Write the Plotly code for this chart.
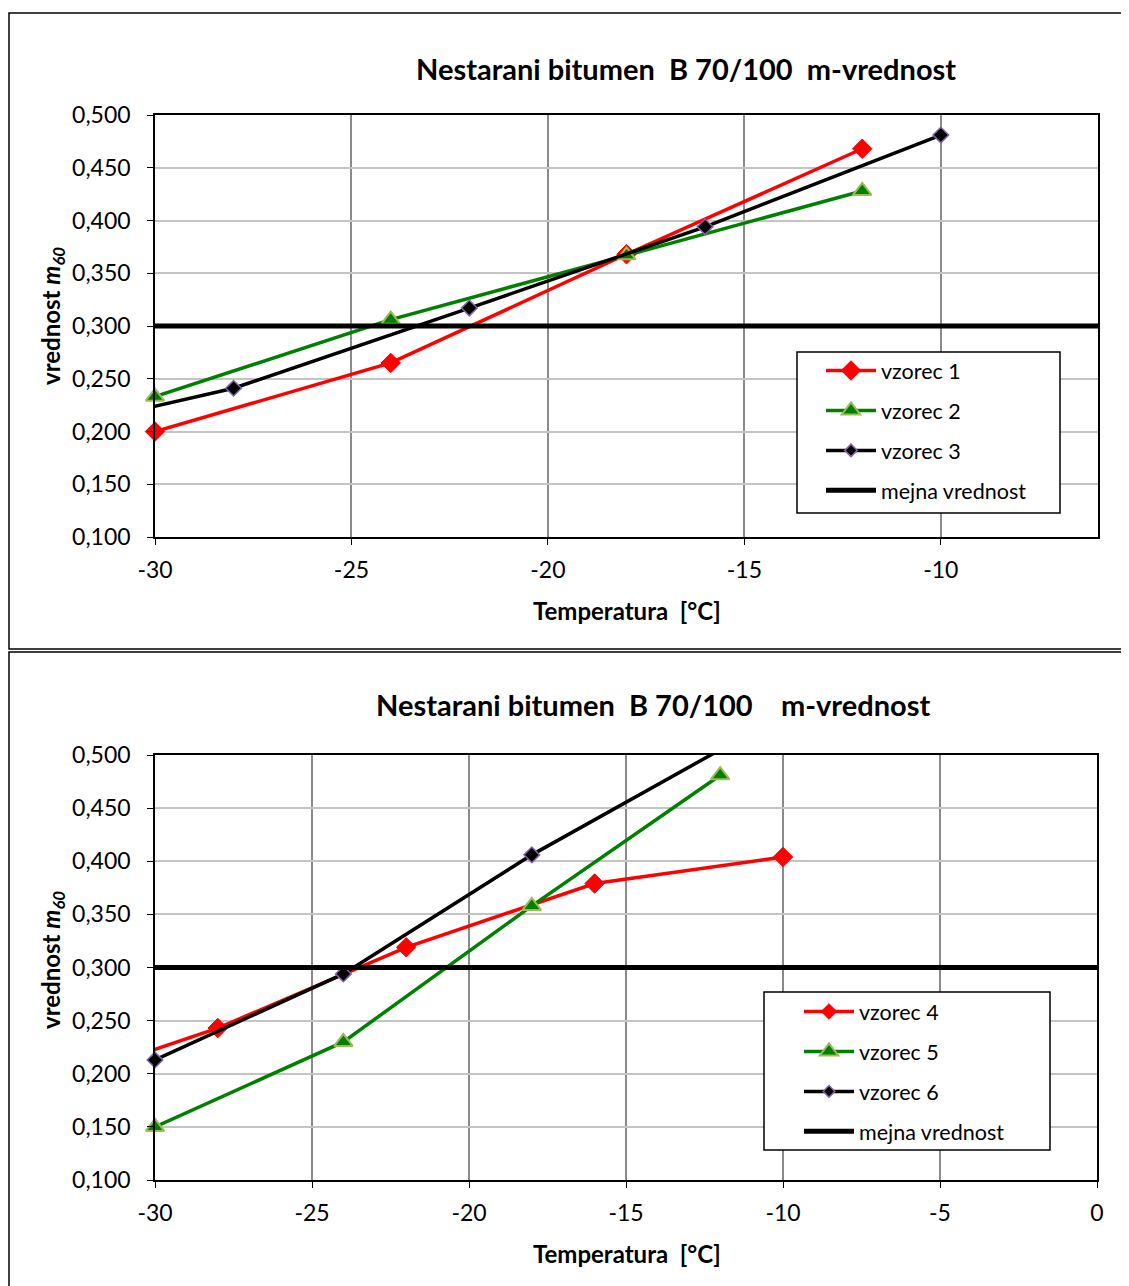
import plotly.graph_objects as go

W, H = 1129, 1286
OFF = 8  # page body margin
def px(x): return (x - OFF) / W
def py(y): return 1 - (y - OFF) / H

# ---------------- data ----------------
# top chart
top_x1 = [-30, -24, -18, -12]
top_y1 = [0.200, 0.265, 0.368, 0.468]
top_x2 = [-30, -24, -18, -12]
top_y2 = [0.233, 0.306, 0.367, 0.428]
top_x3 = [-34, -28, -22, -16, -10]
top_y3 = [0.190, 0.241, 0.317, 0.394, 0.481]
top_names = ["vzorec 1", "vzorec 2", "vzorec 3"]

# bottom chart
bot_x4 = [-34, -28, -22, -16, -10]
bot_y4 = [0.183, 0.243, 0.319, 0.379, 0.404]
bot_x5 = [-30, -24, -18, -12]
bot_y5 = [0.150, 0.230, 0.358, 0.481]
bot_x6 = [-30, -24, -18, -12]
bot_y6 = [0.213, 0.294, 0.406, 0.505]
bot_names = ["vzorec 4", "vzorec 5", "vzorec 6"]

limit_name = "mejna vrednost"
limit_value = 0.300
limit_x = [-40, 10]

top_xticks = [-30, -25, -20, -15, -10]
top_xticktext = ["-30", "-25", "-20", "-15", "-10"]
bot_xticks = [-30, -25, -20, -15, -10, -5, 0]
bot_xticktext = ["-30", "-25", "-20", "-15", "-10", "-5", "0"]
yticks = [0.100, 0.150, 0.200, 0.250, 0.300, 0.350, 0.400, 0.450, 0.500]

title_text = "Nestarani bitumen\u00a0\u00a0B 70/100\u00a0\u00a0m-vrednost"
title_text2 = "Nestarani bitumen\u00a0\u00a0B 70/100\u00a0\u00a0\u00a0\u00a0m-vrednost"
xtitle = "Temperatura\u00a0\u00a0[°C]"
ytitle = "vrednost <i>m<sub>60</sub></i>"

FONT = "Lato"
RED = "#ff0000"
GREEN = "#008000"
BLACK = "#000000"
XMIN = -30
YMIN, YMAX = 0.1, 0.5

fig = go.Figure()

def add_series(xs, ys, name, style, xa, ya, leg):
    if style == "red":
        base = 15
        line = dict(color=RED, width=3.5)
        mk = dict(symbol="diamond", color=RED, line=dict(color=RED, width=1))
    elif style == "green":
        base = 16
        line = dict(color=GREEN, width=3.5)
        mk = dict(symbol="triangle-up", color=GREEN, line=dict(color="#9bbb59", width=2))
    else:
        base = 12
        line = dict(color=BLACK, width=3.5)
        mk = dict(symbol="diamond", color=BLACK, line=dict(color="#8064a2", width=1.5))
    # hide markers of points that fall outside the visible axis range
    sizes = [base if (x >= XMIN and YMIN <= y <= YMAX) else 0 for x, y in zip(xs, ys)]
    mk["size"] = sizes
    mk["opacity"] = 1
    fig.add_trace(go.Scatter(x=xs, y=ys, name=name, mode="lines+markers", line=line,
                             marker=mk, xaxis=xa, yaxis=ya, legend=leg,
                             legendgroup=leg + name, cliponaxis=False))

add_series(top_x1, top_y1, top_names[0], "red", "x", "y", "legend")
add_series(top_x2, top_y2, top_names[1], "green", "x", "y", "legend")
add_series(top_x3, top_y3, top_names[2], "black", "x", "y", "legend")
fig.add_trace(go.Scatter(x=limit_x, y=[limit_value] * len(limit_x), name=limit_name, mode="lines",
                         line=dict(color=BLACK, width=5), xaxis="x", yaxis="y", legend="legend",
                         legendgroup="legendlimit"))

add_series(bot_x4, bot_y4, bot_names[0], "red", "x2", "y2", "legend2")
add_series(bot_x5, bot_y5, bot_names[1], "green", "x2", "y2", "legend2")
add_series(bot_x6, bot_y6, bot_names[2], "black", "x2", "y2", "legend2")
fig.add_trace(go.Scatter(x=limit_x, y=[limit_value] * len(limit_x), name=limit_name, mode="lines",
                         line=dict(color=BLACK, width=5), xaxis="x2", yaxis="y2", legend="legend2",
                         legendgroup="legend2limit"))

tickfont = dict(family=FONT, size=23, color="black")
common_x = dict(showgrid=True, gridcolor="#8a8a8a", gridwidth=1.5, showline=True, linecolor="black",
                linewidth=1.5, mirror=True, ticks="outside", ticklen=6, tickcolor="black",
                zeroline=False, tickfont=tickfont, ticklabelstandoff=6, automargin=False)
common_y = dict(showgrid=True, gridcolor="#c4c4c4", gridwidth=1.5, showline=True, linecolor="black",
                linewidth=1.5, mirror=True, ticks="outside", ticklen=6, tickcolor="black",
                zeroline=False, tickfont=tickfont, range=[YMIN, YMAX], tickvals=yticks,
                tickformat=".3f", ticklabelstandoff=12, automargin=False)

legend_common = dict(xanchor="left", yanchor="top", borderwidth=0,
                     bgcolor="rgba(0,0,0,0)", font=dict(family=FONT, size=21.5, color="black"),
                     tracegroupgap=9, itemwidth=50)

fig.update_layout(
    width=W, height=H,
    margin=dict(l=0, r=0, t=0, b=0, autoexpand=False),
    paper_bgcolor="white", plot_bgcolor="white",
    separators=",.",
    font=dict(family=FONT, color="black"),
    xaxis=dict(domain=[px(155), px(1098)], range=[XMIN, -6], tickvals=top_xticks,
               ticktext=top_xticktext, anchor="y", **common_x),
    yaxis=dict(domain=[py(537), py(115)], anchor="x", **common_y),
    xaxis2=dict(domain=[px(155), px(1097)], range=[XMIN, 0], tickvals=bot_xticks,
                ticktext=bot_xticktext, anchor="y2", **common_x),
    yaxis2=dict(domain=[py(1180), py(755)], anchor="x2", **common_y),
    legend=dict(x=px(821), y=py(350), **legend_common),
    legend2=dict(x=px(799), y=py(991), **legend_common),
    showlegend=True,
)

# outer frames
fig.add_shape(type="rect", xref="paper", yref="paper", x0=px(9), y0=py(649), x1=1.0, y1=py(13),
              line=dict(color="black", width=1.5), layer="below")
fig.add_shape(type="rect", xref="paper", yref="paper", x0=px(9), y0=0.0, x1=1.0, y1=py(652),
              line=dict(color="black", width=1.5), layer="below")
# legend boxes
fig.add_shape(type="rect", xref="paper", yref="paper", x0=px(797), y0=py(513), x1=px(1060), y1=py(352),
              line=dict(color="black", width=1.5), fillcolor="white", layer="above")
fig.add_shape(type="rect", xref="paper", yref="paper", x0=px(764), y0=py(1150), x1=px(1050), y1=py(992),
              line=dict(color="black", width=1.5), fillcolor="white", layer="above")

def ann(text, x, y, size, angle=0, bold=True):
    fig.add_annotation(text=f"<b>{text}</b>" if bold else text, x=px(x), y=py(y), xref="paper",
                       yref="paper", showarrow=False, textangle=angle,
                       font=dict(family=FONT, size=size, color="black"),
                       xanchor="center", yanchor="middle")

ann(title_text, 686, 68, 29)
ann(title_text2, 653, 704, 29)
ann(xtitle, 627, 610, 24)
ann(xtitle, 627, 1253, 24)
ann(ytitle, 52, 316, 24, angle=-90)
ann(ytitle, 52, 960, 24, angle=-90)

fig.write_html("out.html")
